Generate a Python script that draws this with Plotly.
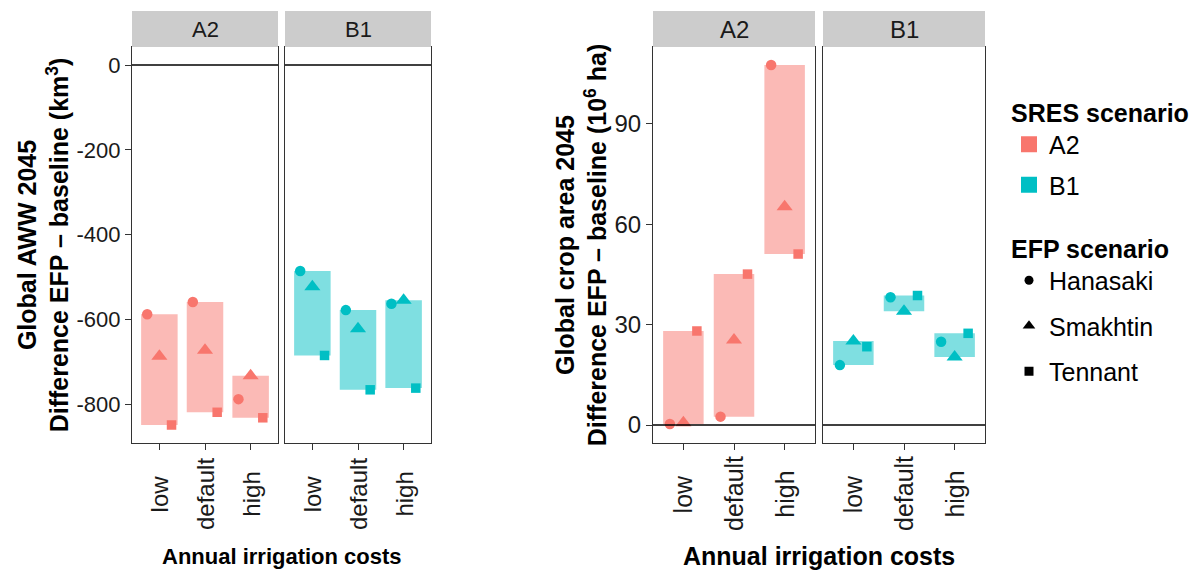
import plotly.graph_objects as go

# ---------------- data ----------------
categories = ["low", "default", "high"]
sres_scenarios = ["A2", "B1"]
efp_scenarios = ["Hanasaki", "Smakhtin", "Tennant"]

# Global AWW 2045, difference EFP - baseline (km3); one value per category
aww_A2_hanasaki = [-588, -559, -788]
aww_A2_smakhtin = [-687, -673, -733]
aww_A2_tennant = [-849, -819, -832]
aww_B1_hanasaki = [-486, -578, -563]
aww_B1_smakhtin = [-523, -622, -555]
aww_B1_tennant = [-685, -766, -762]

# Global crop area 2045, difference EFP - baseline (10^6 ha)
crop_A2_hanasaki = [0.3, 2.5, 107.6]
crop_A2_smakhtin = [0.7, 25.4, 65.2]
crop_A2_tennant = [28.1, 45.1, 51.1]
crop_B1_hanasaki = [17.9, 38.2, 24.9]
crop_B1_smakhtin = [25.1, 34.0, 20.3]
crop_B1_tennant = [23.4, 38.7, 27.4]

aww_ticks = [-800, -600, -400, -200, 0]
crop_ticks = [0, 30, 60, 90]

# ---------------- styling ----------------
W, H = 1196, 571
FONT = "Liberation Sans, Arial, sans-serif"
sres_colors = {"A2": "#F8766D", "B1": "#00BFC4"}
sres_fill = {"A2": "rgba(248,118,109,0.5)", "B1": "rgba(0,191,196,0.5)"}
efp_symbols = {"Hanasaki": "circle", "Smakhtin": "triangle-up", "Tennant": "square"}
efp_sizes = {"Hanasaki": 10.5, "Smakhtin": 14, "Tennant": 9.5}
efp_offsets = {"Hanasaki": -0.8 / 3, "Smakhtin": 0.0, "Tennant": 0.8 / 3}
cat_pos = [1, 2, 3]

panels = [
    {
        "A2": {"Hanasaki": aww_A2_hanasaki, "Smakhtin": aww_A2_smakhtin, "Tennant": aww_A2_tennant},
        "B1": {"Hanasaki": aww_B1_hanasaki, "Smakhtin": aww_B1_smakhtin, "Tennant": aww_B1_tennant},
        "ticks": aww_ticks,
        "title": "<b>Global AWW 2045</b><br><b>Difference EFP – baseline (km<sup>3</sup>)</b>",
        "xpx": [(132, 278), (285, 431)],
        "fs_tick": 22, "fs_xlab": 24, "fs_strip": 22, "fs_xtitle": 22, "fs_ytitle": 25,
    },
    {
        "A2": {"Hanasaki": crop_A2_hanasaki, "Smakhtin": crop_A2_smakhtin, "Tennant": crop_A2_tennant},
        "B1": {"Hanasaki": crop_B1_hanasaki, "Smakhtin": crop_B1_smakhtin, "Tennant": crop_B1_tennant},
        "ticks": crop_ticks,
        "title": "<b>Global crop area 2045</b><br><b>Difference EFP – baseline (10<sup>6</sup> ha)</b>",
        "xpx": [(653, 815), (823, 985)],
        "fs_tick": 24, "fs_xlab": 25, "fs_strip": 24, "fs_xtitle": 25, "fs_ytitle": 25,
    },
]

ytop_px, ybot_px = 47, 443
ydom = [1 - ybot_px / H, 1 - ytop_px / H]
strip_h = 36 / (ybot_px - ytop_px)
xlabel_center_px = 494

fig = go.Figure()
layout = {}
shapes = []
annotations = []

ax_idx = 0
for p_i, panel in enumerate(panels):
    allv = [v for s in sres_scenarios for e in efp_scenarios for v in panel[s][e]] + [0]
    lo, hi = min(allv), max(allv)
    pad = 0.05 * (hi - lo)
    yrange = [lo - pad, hi + pad]
    first_y = None
    for s_i, s in enumerate(sres_scenarios):
        ax_idx += 1
        xa = "x" if ax_idx == 1 else f"x{ax_idx}"
        ya = "y" if ax_idx == 1 else f"y{ax_idx}"
        xname = "xaxis" if ax_idx == 1 else f"xaxis{ax_idx}"
        yname = "yaxis" if ax_idx == 1 else f"yaxis{ax_idx}"
        if first_y is None:
            first_y = ya
        vals = panel[s]
        mins = [min(vals[e][c] for e in efp_scenarios) for c in range(3)]
        maxs = [max(vals[e][c] for e in efp_scenarios) for c in range(3)]
        fig.add_trace(go.Bar(
            x=cat_pos, y=[mx - mn for mn, mx in zip(mins, maxs)], base=mins,
            width=0.8, marker=dict(color=sres_fill[s], line=dict(width=0)),
            xaxis=xa, yaxis=ya, showlegend=False, hoverinfo="skip",
        ))
        for e in efp_scenarios:
            fig.add_trace(go.Scatter(
                x=[c + efp_offsets[e] for c in cat_pos], y=vals[e], mode="markers",
                marker=dict(symbol=efp_symbols[e], size=efp_sizes[e], color=sres_colors[s], line=dict(width=0)),
                xaxis=xa, yaxis=ya, showlegend=False, name=f"{s} {e}",
            ))
        x0, x1 = panel["xpx"][s_i]
        layout[xname] = dict(
            domain=[x0 / W, x1 / W], anchor=ya, range=[0.4, 3.6],
            tickmode="array", tickvals=cat_pos, ticktext=categories,
            showticklabels=False,
            ticks="outside", ticklen=6, tickcolor="#333333", tickwidth=1,
            showline=True, mirror=True, linecolor="#333333", linewidth=1,
            showgrid=False, zeroline=False,
        )
        # category labels, rotated and centred like the reference
        for c, lab in zip(cat_pos, categories):
            annotations.append(dict(text=lab, xref=xa, yref="paper", x=c, y=1 - xlabel_center_px / H,
                                    textangle=-90, showarrow=False, xanchor="center", yanchor="middle",
                                    font=dict(family=FONT, size=panel["fs_xlab"], color="#1a1a1a")))
        yax = dict(
            domain=ydom, anchor=xa, range=yrange,
            tickmode="array", tickvals=panel["ticks"], ticktext=[str(t) for t in panel["ticks"]],
            ticks="outside", ticklen=6, tickcolor="#333333", tickwidth=1,
            showline=True, mirror=True, linecolor="#333333", linewidth=1,
            showgrid=False, zeroline=False,
            tickfont=dict(family=FONT, size=panel["fs_tick"], color="#1a1a1a"),
        )
        if s_i == 0:
            yax["title"] = dict(text=panel["title"],
                                font=dict(family=FONT, size=panel["fs_ytitle"], color="black"), standoff=0)
        else:
            yax["matches"] = first_y
            yax["showticklabels"] = False
            yax["ticks"] = ""
        layout[yname] = yax
        # zero line (geom_hline at 0)
        shapes.append(dict(type="line", xref=f"{xa} domain", yref=ya, x0=0, x1=1, y0=0, y1=0,
                           line=dict(color="black", width=1.3), layer="above"))
        # facet strip
        shapes.append(dict(type="rect", xref=f"{xa} domain", yref=f"{ya} domain",
                           x0=0, x1=1, y0=1, y1=1 + strip_h, fillcolor="#CCCCCC",
                           line=dict(width=0)))
        annotations.append(dict(text=s, xref=f"{xa} domain", yref=f"{ya} domain",
                                x=0.5, y=1 + strip_h / 2, showarrow=False,
                                xanchor="center", yanchor="middle",
                                font=dict(family=FONT, size=panel["fs_strip"], color="#1a1a1a")))
    # x-axis title centred under both facets
    xl = panel["xpx"][0][0]
    xr = panel["xpx"][1][1]
    annotations.append(dict(text="<b>Annual irrigation costs</b>", xref="paper", yref="paper",
                            x=(xl + xr) / 2 / W, y=1 - 556 / H, showarrow=False,
                            xanchor="center", yanchor="middle",
                            font=dict(family=FONT, size=panel["fs_xtitle"], color="black")))

# legend entries
for s in sres_scenarios:
    fig.add_trace(go.Scatter(x=[None], y=[None], mode="markers", name=s, legend="legend",
                             legendgroup=f"sres_{s}",
                             marker=dict(symbol="square", size=16, color=sres_colors[s])))
for e in efp_scenarios:
    fig.add_trace(go.Scatter(x=[None], y=[None], mode="markers", name=e, legend="legend2",
                             legendgroup=f"efp_{e}",
                             marker=dict(symbol=efp_symbols[e], size=9 if e != "Smakhtin" else 11,
                                         color="black")))

fig.update_layout(
    width=W, height=H,
    margin=dict(l=0, r=0, t=0, b=0),
    paper_bgcolor="white", plot_bgcolor="white",
    font=dict(family=FONT, size=22, color="black"),
    shapes=shapes, annotations=annotations,
    legend=dict(title=dict(text="<b>SRES scenario</b>", font=dict(size=25)),
                font=dict(family=FONT, size=25), x=1009 / W, y=1 - 89 / H,
                xanchor="left", yanchor="top", bgcolor="rgba(0,0,0,0)", tracegroupgap=5),
    legend2=dict(title=dict(text="<b>EFP scenario</b>", font=dict(size=25)),
                 font=dict(family=FONT, size=25), x=1009 / W, y=1 - 225 / H,
                 xanchor="left", yanchor="top", bgcolor="rgba(0,0,0,0)", tracegroupgap=10),
    **layout,
)

fig.write_html("out.html", config={"displayModeBar": False},
               post_script="document.body.style.margin='0';")
